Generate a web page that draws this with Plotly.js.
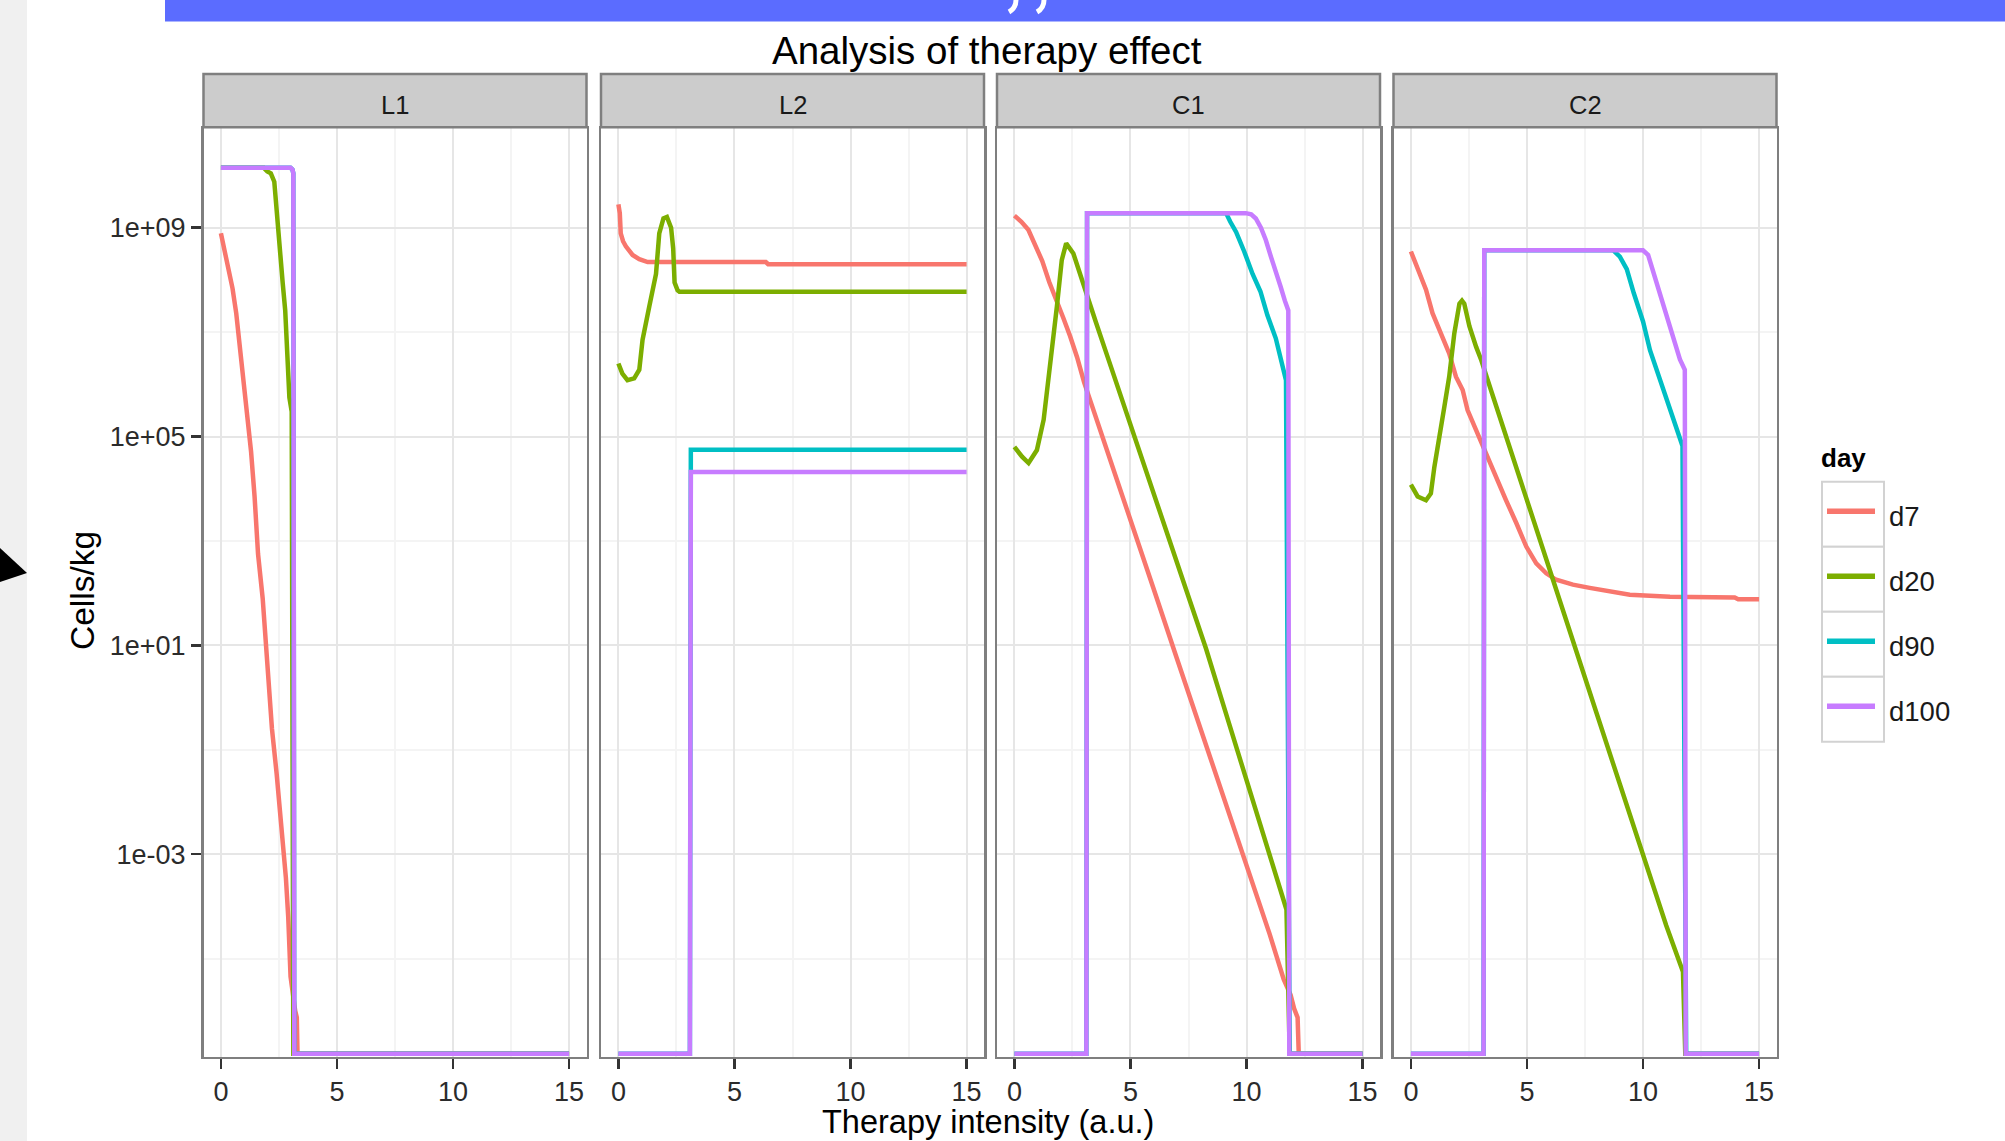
<!DOCTYPE html>
<html>
<head>
<meta charset="utf-8">
<script src="https://cdn.plot.ly/plotly-3.0.1.min.js"></script>
<style>html,body{margin:0;padding:0;background:#fff;}#chart{width:2005px;height:1141px;}</style>
</head>
<body>
<div id="chart"></div>
<script>
// ---------------- DATA ----------------
const PANELS = ['L1', 'L2', 'C1', 'C2'];
const DAYS = ['d7', 'd20', 'd90', 'd100'];
const DAY_COLORS = ['#F8766D', '#7CAE00', '#00BFC4', '#C77CFF'];
const X_TICKS = [0, 5, 10, 15];
const Y_TICK_VALUES = [1e-3, 1e1, 1e5, 1e9];
const Y_TICK_LABELS = ['1e-03', '1e+01', '1e+05', '1e+09'];

// L1
const L1_d7_x = [0, 0.1, 0.25, 0.5, 0.66, 0.83, 1.0, 1.15, 1.3, 1.45, 1.6, 1.8, 2.0, 2.2, 2.4, 2.6, 2.8, 2.9, 3.0, 3.2, 3.27, 3.3, 15];
const L1_d7_y = [7.8e8, 5.0e8, 2.2e8, 6.9e7, 2.3e7, 4.9e6, 1.2e6, 2.6e5, 5.1e4, 7.1e3, 560, 79, 4.0, 0.25, 0.035, 3.5e-3, 3.5e-4, 6.3e-5, 4.5e-6, 1.0e-6, 7.4e-7, 0, 0];
const L1_d20_x = [0, 1.85, 2.0, 2.15, 2.3, 2.42, 2.52, 2.66, 2.77, 2.86, 2.95, 3.05, 3.12, 15];
const L1_d20_y = [1.4e10, 1.4e10, 1.2e10, 1.1e10, 7.6e9, 1.6e9, 3.5e8, 8.9e7, 2.6e7, 4.0e6, 5.6e5, 3.0e5, 0, 0];
const L1_d90_x = [0, 3.0, 3.08, 3.12, 3.16, 15];
const L1_d90_y = [1.4e10, 1.4e10, 1.3e10, 1.1e10, 0, 0];
const L1_d100_x = [0, 3.0, 3.08, 3.12, 3.16, 15];
const L1_d100_y = [1.4e10, 1.4e10, 1.3e10, 1.1e10, 0, 0];

// L2
const L2_d7_x = [0, 0.06, 0.1, 0.2, 0.32, 0.45, 0.61, 0.9, 1.26, 6.35, 6.45, 15];
const L2_d7_y = [2.8e9, 1.9e9, 7.8e8, 5.5e8, 4.4e8, 3.6e8, 3.0e8, 2.5e8, 2.2e8, 2.2e8, 2.0e8, 2.0e8];
const L2_d20_x = [0, 0.17, 0.39, 0.68, 0.9, 1.04, 1.33, 1.62, 1.76, 1.94, 2.09, 2.27, 2.36, 2.42, 2.55, 2.63, 15];
const L2_d20_y = [2.5e6, 1.6e6, 1.2e6, 1.3e6, 1.9e6, 7.1e6, 3.1e7, 1.3e8, 7.8e8, 1.5e9, 1.6e9, 1.0e9, 4.0e8, 8.9e7, 6.3e7, 5.9e7, 5.9e7];
const L2_d90_x = [0, 3.08, 3.12, 15];
const L2_d90_y = [0, 0, 5.6e4, 5.6e4];
const L2_d100_x = [0, 3.08, 3.12, 15];
const L2_d100_y = [0, 0, 2.1e4, 2.1e4];

// C1
const C1_d7_x = [0, 0.3, 0.6, 0.9, 1.2, 1.5, 1.8, 2.1, 2.4, 2.7, 3.0, 4.0, 5.0, 6.0, 7.0, 8.0, 9.0, 10.0, 11.0, 11.6, 11.9, 12.05, 12.2, 12.25, 15];
const C1_d7_y = [1.7e9, 1.3e9, 9.1e8, 4.6e8, 2.3e8, 9.1e7, 4.4e7, 1.9e7, 8.3e6, 3.3e6, 1.1e6, 5.0e4, 2.4e3, 120, 5.6, 0.27, 0.013, 6.0e-4, 2.9e-5, 4.0e-6, 2.0e-6, 1.1e-6, 7.4e-7, 0, 0];
const C1_d20_x = [0, 0.33, 0.61, 0.97, 1.26, 1.54, 1.83, 2.04, 2.23, 2.54, 2.9, 3.5, 4.0, 4.5, 5.0, 5.5, 6.0, 6.5, 7.0, 7.5, 8.26, 9.0, 9.7, 10.4, 11.1, 11.72, 11.86, 15];
const C1_d20_y = [6.3e4, 4.1e4, 3.1e4, 5.5e4, 2.1e5, 2.2e6, 3.1e7, 2.4e8, 5.0e8, 3.2e8, 1.0e8, 1.6e7, 3.5e6, 7.8e5, 1.7e5, 3.7e4, 8.1e3, 1.8e3, 390, 85, 8.5, 0.72, 0.069, 6.8e-3, 6.5e-4, 8.7e-5, 0, 0];
const C1_d90_x = [0, 3.1, 3.13, 9.12, 9.3, 9.55, 9.9, 10.26, 10.6, 10.9, 11.26, 11.47, 11.7, 11.86, 15];
const C1_d90_y = [0, 0, 1.9e9, 1.9e9, 1.3e9, 8.3e8, 3.5e8, 1.3e8, 6.0e7, 2.1e7, 7.6e6, 3.2e6, 1.2e6, 0, 0];
const C1_d100_x = [0, 3.1, 3.13, 9.97, 10.2, 10.4, 10.62, 10.83, 11.05, 11.26, 11.47, 11.65, 11.8, 11.84, 15];
const C1_d100_y = [0, 0, 1.9e9, 1.9e9, 1.8e9, 1.5e9, 1.0e9, 5.8e8, 2.8e8, 1.5e8, 7.4e7, 4.0e7, 2.6e7, 0, 0];

// C2
const C2_d7_x = [0, 0.36, 0.65, 0.93, 1.37, 1.65, 1.94, 2.23, 2.44, 2.81, 3.24, 3.67, 4.1, 4.54, 4.97, 5.4, 5.83, 6.26, 6.98, 7.7, 8.42, 9.43, 11.16, 13.95, 14.1, 15];
const C2_d7_y = [3.5e8, 1.3e8, 6.5e7, 2.3e7, 8.1e6, 3.9e6, 1.4e6, 7.8e5, 3.2e5, 1.3e5, 4.8e4, 1.7e4, 6.0e3, 2.2e3, 780, 370, 240, 180, 145, 126, 110, 93, 85, 82, 76, 76];
const C2_d20_x = [0, 0.29, 0.65, 0.86, 1.01, 1.22, 1.44, 1.65, 1.87, 2.09, 2.2, 2.3, 2.52, 2.81, 3.02, 3.5, 4.0, 4.5, 5.0, 5.5, 6.0, 6.5, 7.0, 7.5, 8.0, 9.0, 10.0, 11.0, 11.72, 11.82, 15];
const C2_d20_y = [1.2e4, 7.1e3, 6.0e3, 8.1e3, 2.6e4, 1.1e5, 3.7e5, 1.4e6, 9.5e6, 3.5e7, 4.0e7, 3.5e7, 1.3e7, 5.2e6, 3.0e6, 6.6e5, 1.4e5, 2.9e4, 6.0e3, 1.3e3, 260, 55, 11.5, 2.4, 0.50, 0.022, 9.8e-4, 4.3e-5, 5.6e-6, 0, 0];
const C2_d90_x = [0, 3.13, 3.16, 8.71, 9.0, 9.3, 9.6, 10.0, 10.3, 10.65, 10.95, 11.25, 11.5, 11.7, 11.86, 15];
const C2_d90_y = [0, 0, 3.7e8, 3.7e8, 2.8e8, 1.6e8, 5.6e7, 1.6e7, 4.5e6, 1.6e6, 6.6e5, 2.5e5, 1.2e5, 6.6e4, 0, 0];
const C2_d100_x = [0, 3.13, 3.16, 10.0, 10.22, 10.44, 10.73, 11.02, 11.3, 11.59, 11.8, 11.84, 15];
const C2_d100_y = [0, 0, 3.7e8, 3.7e8, 3.0e8, 1.4e8, 5.8e7, 2.1e7, 7.6e6, 3.0e6, 1.9e6, 0, 0];

// lookup table built from the arrays above
const SERIES = {
  L1: {d7: [L1_d7_x, L1_d7_y], d20: [L1_d20_x, L1_d20_y], d90: [L1_d90_x, L1_d90_y], d100: [L1_d100_x, L1_d100_y]},
  L2: {d7: [L2_d7_x, L2_d7_y], d20: [L2_d20_x, L2_d20_y], d90: [L2_d90_x, L2_d90_y], d100: [L2_d100_x, L2_d100_y]},
  C1: {d7: [C1_d7_x, C1_d7_y], d20: [C1_d20_x, C1_d20_y], d90: [C1_d90_x, C1_d90_y], d100: [C1_d100_x, C1_d100_y]},
  C2: {d7: [C2_d7_x, C2_d7_y], d20: [C2_d20_x, C2_d20_y], d90: [C2_d90_x, C2_d90_y], d100: [C2_d100_x, C2_d100_y]}
};

// ---------------- LAYOUT ----------------
const W = 2005, H = 1141;
const FONT = 'Liberation Sans, Arial, Helvetica, sans-serif';
const px = v => v / W;
const py = v => 1 - v / H;
const PANEL_LEFT = [203.5, 601, 997, 1393.5];
const PANEL_W = 383;
const PANEL_TOP = 128.3, PANEL_BOTTOM = 1056.5;
const STRIP_TOP = 74;
const Y_RANGE = [-6.877, 10.904];
const ZERO_SHOWN_AT = 1.5e-7; // zero counts are drawn at the bottom edge, as log10(0) = -Inf in the original

const traces = [];
const layout = {
  width: W, height: H,
  margin: {l: 0, r: 0, t: 0, b: 0},
  paper_bgcolor: '#ffffff', plot_bgcolor: '#ffffff',
  showlegend: false,
  font: {family: FONT, color: '#2b2b2b'},
  shapes: [], annotations: []
};

PANELS.forEach((p, i) => {
  const n = i === 0 ? '' : String(i + 1);
  const left = PANEL_LEFT[i];
  layout['xaxis' + n] = {
    domain: [px(left), px(left + PANEL_W)], anchor: 'y' + n,
    range: [-0.75, 15.75], tickmode: 'array', tickvals: X_TICKS, ticktext: X_TICKS.map(String),
    ticks: 'outside', ticklen: 10, tickwidth: 2.5, tickcolor: '#333333',
    tickfont: {size: 27, color: '#2b2b2b', family: FONT},
    showline: true, mirror: true, linecolor: '#7f7f7f', linewidth: 2.5,
    showgrid: true, gridcolor: '#e6e6e6', gridwidth: 2, zeroline: false,
    minor: {tickmode: 'array', tickvals: [2.5, 7.5, 12.5], showgrid: true, gridcolor: '#f4f4f4', gridwidth: 2, ticks: ''},
    fixedrange: true
  };
  layout['yaxis' + n] = {
    domain: [py(PANEL_BOTTOM), py(PANEL_TOP)], anchor: 'x' + n,
    type: 'log', range: Y_RANGE,
    tickmode: 'array', tickvals: Y_TICK_VALUES, ticktext: Y_TICK_LABELS,
    ticks: i === 0 ? 'outside' : '', ticklen: 10, tickwidth: 2.5, tickcolor: '#333333',
    showticklabels: i === 0,
    tickfont: {size: 27, color: '#2b2b2b', family: FONT},
    showline: true, mirror: true, linecolor: '#7f7f7f', linewidth: 2.5,
    showgrid: true, gridcolor: '#e6e6e6', gridwidth: 2, zeroline: false,
    minor: {tickmode: 'array', tickvals: [1e-5, 1e-1, 1e3, 1e7], showgrid: true, gridcolor: '#f4f4f4', gridwidth: 2, ticks: ''},
    fixedrange: true
  };
  DAYS.forEach((d, k) => {
    const [xs, ys] = SERIES[p][d];
    traces.push({
      type: 'scatter', mode: 'lines', name: d,
      x: xs, y: ys.map(v => (v > 0 ? v : ZERO_SHOWN_AT)),
      xaxis: 'x' + n, yaxis: 'y' + n,
      line: {color: DAY_COLORS[k], width: 4.5},
      hoverinfo: 'skip', showlegend: false
    });
  });
  // facet strip
  layout.shapes.push({type: 'rect', xref: 'paper', yref: 'paper',
    x0: px(left), x1: px(left + PANEL_W), y0: py(PANEL_TOP - 1), y1: py(STRIP_TOP),
    fillcolor: '#cccccc', line: {color: '#7f7f7f', width: 2.5}});
  layout.annotations.push({xref: 'paper', yref: 'paper', x: px(left + PANEL_W / 2), y: py(105),
    text: p, showarrow: false, xanchor: 'center', yanchor: 'middle',
    font: {size: 25.5, color: '#1a1a1a', family: FONT}});
});

// page decorations (slide background)
layout.shapes.push({type: 'rect', xref: 'paper', yref: 'paper', x0: 0, x1: px(27), y0: 0, y1: 1,
  fillcolor: '#f0f0f0', line: {width: 0}, layer: 'below'});
layout.shapes.push({type: 'rect', xref: 'paper', yref: 'paper', x0: px(165), x1: 1, y0: py(21.5), y1: 1,
  fillcolor: '#5b6cff', line: {width: 0}});
layout.shapes.push({type: 'path', xref: 'paper', yref: 'paper',
  path: `M ${px(0)} ${py(548)} L ${px(27)} ${py(573)} L ${px(0)} ${py(582)} Z`,
  fillcolor: '#000000', line: {width: 0}});
[[1016, 1009], [1044, 1037]].forEach(([a, b]) => {
  layout.shapes.push({type: 'path', xref: 'paper', yref: 'paper',
    path: `M ${px(a)} ${py(0)} Q ${px(a)} ${py(8)} ${px(b)} ${py(12)}`,
    line: {color: '#ffffff', width: 5}});
});

// titles
layout.annotations.push({xref: 'paper', yref: 'paper', x: px(986.5), y: py(50),
  text: 'Analysis of therapy effect', showarrow: false, xanchor: 'center', yanchor: 'middle',
  font: {size: 38.5, color: '#000000', family: FONT}});
layout.annotations.push({xref: 'paper', yref: 'paper', x: px(82), y: py(591),
  text: 'Cells/kg', textangle: -90, showarrow: false, xanchor: 'center', yanchor: 'middle',
  font: {size: 33.5, color: '#000000', family: FONT}});
layout.annotations.push({xref: 'paper', yref: 'paper', x: px(988), y: py(1122),
  text: 'Therapy intensity (a.u.)', showarrow: false, xanchor: 'center', yanchor: 'middle',
  font: {size: 32.5, color: '#000000', family: FONT}});

// legend (drawn by hand to mimic the ggplot key boxes)
const LEG_X0 = 1822, LEG_X1 = 1884, LEG_Y0 = 481.7, LEG_KEY_H = 65;
layout.annotations.push({xref: 'paper', yref: 'paper', x: px(1819), y: py(458),
  text: '<b>day</b>', showarrow: false, xanchor: 'left', yanchor: 'middle',
  font: {size: 26, color: '#000000', family: FONT}});
DAYS.forEach((d, k) => {
  const top = LEG_Y0 + k * LEG_KEY_H;
  const mid = top + LEG_KEY_H / 2;
  layout.shapes.push({type: 'rect', xref: 'paper', yref: 'paper',
    x0: px(LEG_X0), x1: px(LEG_X1), y0: py(top + LEG_KEY_H), y1: py(top),
    fillcolor: '#ffffff', line: {color: '#d2d2d2', width: 2}});
  layout.shapes.push({type: 'line', xref: 'paper', yref: 'paper',
    x0: px(LEG_X0 + 5), x1: px(LEG_X1 - 9), y0: py(mid - 3), y1: py(mid - 3),
    line: {color: DAY_COLORS[k], width: 5.5}});
  layout.annotations.push({xref: 'paper', yref: 'paper', x: px(1887), y: py(mid + 2),
    text: d, showarrow: false, xanchor: 'left', yanchor: 'middle',
    font: {size: 27.5, color: '#1a1a1a', family: FONT}});
});

Plotly.newPlot('chart', traces, layout, {staticPlot: true, displayModeBar: false});
</script>
</body>
</html>
